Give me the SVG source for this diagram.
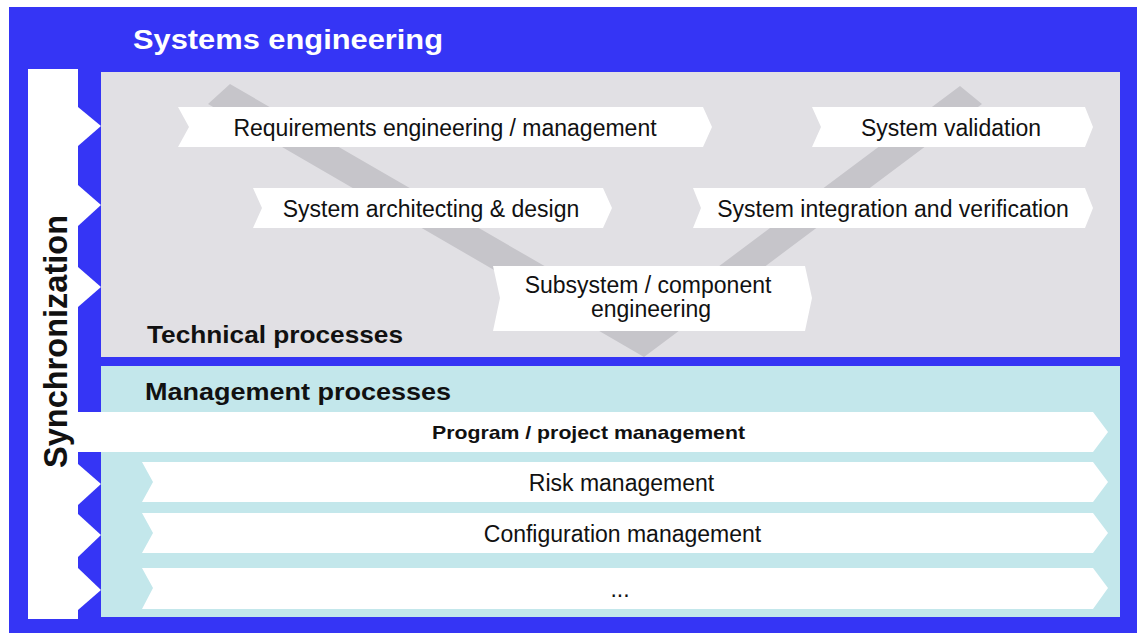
<svg xmlns="http://www.w3.org/2000/svg" width="1138" height="634" viewBox="0 0 1138 634">
  <style>
    .frame { fill: #3535f5; }
    .tech { fill: #e1e0e4; }
    .mgmt { fill: #c3e7eb; }
    .vband { fill: #c6c5ca; }
    .chev { fill: #ffffff; }
    .lbl { font-family: "Liberation Sans", Arial, sans-serif; font-size: 23px; fill: #111111; text-anchor: middle; }
    .head { font-family: "Liberation Sans", Arial, sans-serif; font-size: 24px; font-weight: bold; fill: #111111; }
  </style>

  <!-- outer frame -->
  <rect width="1138" height="634" fill="#ffffff"/>
  <rect class="frame" x="9" y="7" width="1128" height="626"/>

  <!-- title -->
  <text x="133" y="49" font-family="'Liberation Sans', Arial, sans-serif" font-size="28" font-weight="bold" fill="#ffffff" textLength="310" lengthAdjust="spacingAndGlyphs">Systems engineering</text>

  <!-- technical processes panel -->
  <g id="technical-processes">
    <rect class="tech" x="101" y="72" width="1019" height="285"/>
    <!-- V-model band -->
    <polygon class="vband" points="208,104 230,84 643,323 960,86 982,104 644,357"/>
    <text class="head" x="147" y="343" textLength="256" lengthAdjust="spacingAndGlyphs">Technical processes</text>
  </g>

  <!-- management processes panel -->
  <g id="management-processes">
    <rect class="mgmt" x="101" y="366" width="1019" height="251"/>
    <text class="head" x="145" y="400" textLength="306" lengthAdjust="spacingAndGlyphs">Management  processes</text>
  </g>

  <!-- program row runs through the synchronization bar -->
  <g id="program-management">
    <polygon class="chev" points="28,412 1093,412 1108,432 1093,452 28,452"/>
    <text x="588.5" y="439" font-family="'Liberation Sans', Arial, sans-serif" font-size="19" font-weight="bold" fill="#111111" text-anchor="middle" textLength="313" lengthAdjust="spacingAndGlyphs">Program / project management</text>
  </g>

  <!-- synchronization bar with its teeth -->
  <g id="synchronization">
    <rect class="chev" x="28" y="69" width="50" height="550"/>
    <polygon class="chev" points="78,107 101,126 78,146"/>
    <polygon class="chev" points="78,185 101,205 78,226"/>
    <polygon class="chev" points="78,267 101,287 78,307"/>
    <polygon class="chev" points="78,464 101,484 78,505"/>
    <polygon class="chev" points="78,514 101,535 78,557"/>
    <polygon class="chev" points="78,568 101,590 78,610"/>
    <text transform="translate(67,341.5) rotate(-90)" x="0" y="0" font-family="'Liberation Sans', Arial, sans-serif" font-size="33" font-weight="bold" fill="#111111" text-anchor="middle" textLength="253" lengthAdjust="spacingAndGlyphs">Synchronization</text>
  </g>

  <!-- technical process steps -->
  <g id="requirements">
    <polygon class="chev" points="178,107 703,107 712,127 703,147 178,147 189,127"/>
    <text class="lbl" x="445" y="136">Requirements engineering / management</text>
  </g>
  <g id="validation">
    <polygon class="chev" points="812,107 1085,107 1093,127 1085,147 812,147 821,127"/>
    <text class="lbl" x="951" y="136">System validation</text>
  </g>
  <g id="architecting">
    <polygon class="chev" points="253,188 603,188 612,208 603,228 253,228 262,208"/>
    <text class="lbl" x="431" y="217">System architecting &amp; design</text>
  </g>
  <g id="integration">
    <polygon class="chev" points="693,188 1085,188 1093,208 1085,228 693,228 701,208"/>
    <text class="lbl" x="893" y="217">System integration and verification</text>
  </g>
  <g id="subsystem">
    <polygon class="chev" points="493,266 805,266 812,298 805,331 493,331 500,298"/>
    <text class="lbl" x="648" y="293">Subsystem / component</text>
    <text class="lbl" x="651" y="317">engineering</text>
  </g>

  <!-- remaining management process rows -->
  <g id="risk-management">
    <polygon class="chev" points="142,462 1093,462 1108,482 1093,502 142,502 153,482"/>
    <text class="lbl" x="621.5" y="491">Risk management</text>
  </g>
  <g id="configuration-management">
    <polygon class="chev" points="142,513 1093,513 1108,533 1093,553 142,553 153,533"/>
    <text class="lbl" x="622.5" y="542">Configuration management</text>
  </g>
  <g id="more-management">
    <polygon class="chev" points="142,568 1093,568 1108,588 1093,609 142,609 153,588"/>
    <text class="lbl" x="620" y="597">...</text>
  </g>
</svg>
